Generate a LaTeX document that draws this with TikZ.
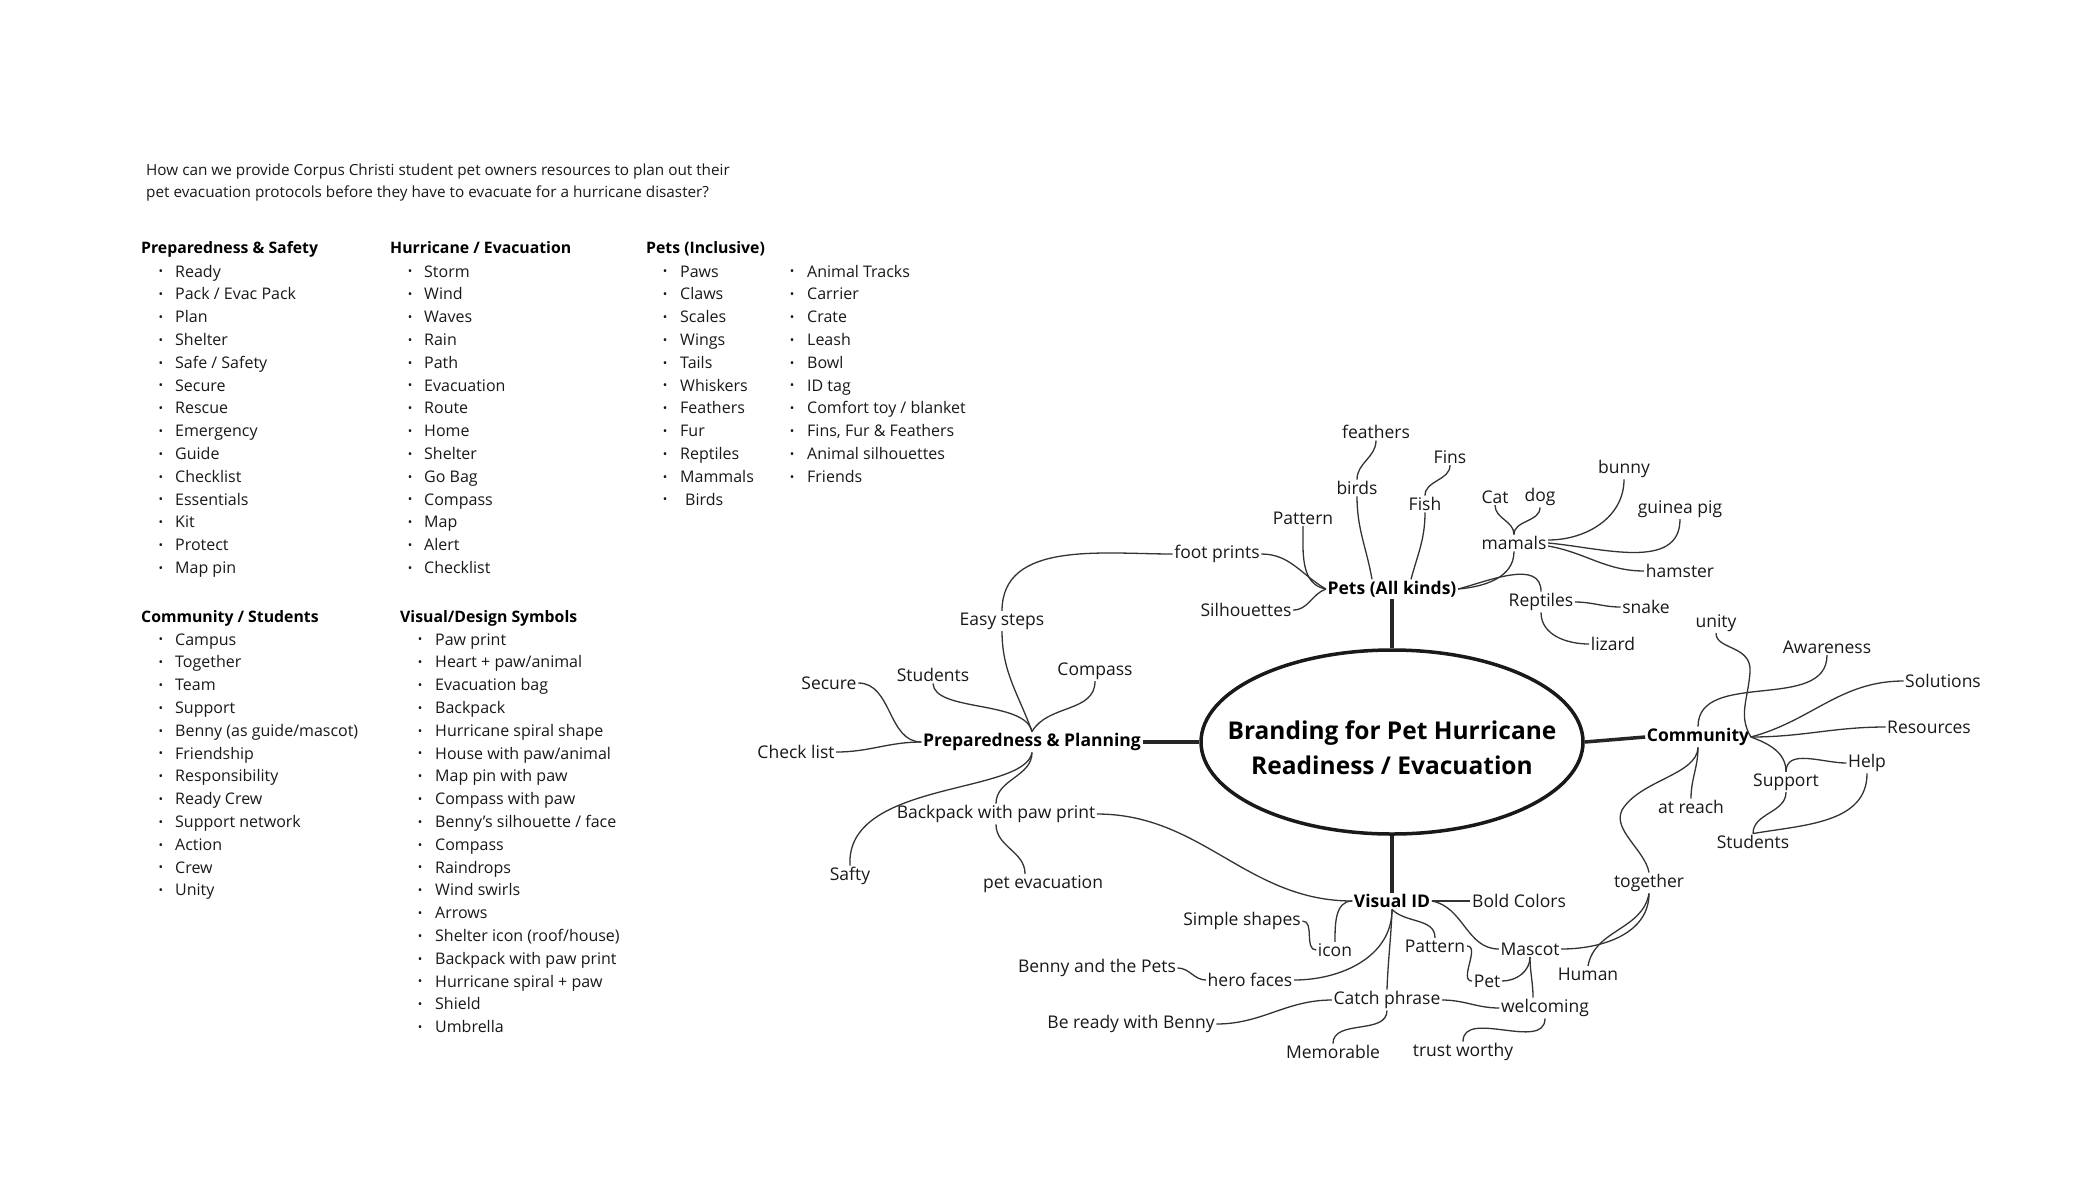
\documentclass[tikz,border=0pt]{standalone}
\usepackage{fontspec}
\setmainfont{Open Sans}
\usepackage{tikz}
\usetikzlibrary{shapes.geometric}

\newcommand{\listfont}{\fontsize{16}{22}\selectfont}
\newcommand{\mapfont}{\fontsize{17.5}{21}\selectfont}
\newcommand{\brandfont}{\fontsize{24.5}{35}\selectfont\bfseries}

\begin{document}
\begin{tikzpicture}[x=1pt, y=1pt,
        lbl/.style={inner sep=1.5pt, text=black!90, font=\mapfont},
        hub/.style={inner sep=1.5pt, text=black, font=\mapfont\bfseries},
        item/.style={anchor=west, inner sep=0pt, text height=11pt, text depth=3pt,
            text=black!90, font=\listfont},
        dot/.style={inner sep=0pt, text=black!90, font=\fontsize{12}{12}\selectfont},
        head/.style={anchor=west, inner sep=0pt, text height=11pt, text depth=3pt,
            text=black, font=\fontsize{15.8}{22}\selectfont\bfseries},
        link/.style={draw=black!80, line width=1.3pt},
        trunk/.style={draw=black!85, line width=3.5pt}]
    \fill[white] (0,0) rectangle (2100,-1200);
    \useasboundingbox (0,0) rectangle (2100,-1200);

    % question and word lists
    \node[anchor=west, inner sep=0pt, align=left, text=black!90,
        font=\fontsize{15.3}{22}\selectfont] (question) at (146,-183)
        {How can we provide Corpus Christi student pet owners resources to plan out their\\
         pet evacuation protocols before they have to evacuate for a hurricane disaster?};

    \node[head] (hsafe) at (141,-249) {Preparedness \& Safety};
    \foreach \t [count=\i from 0] in {Ready, Pack / Evac Pack, Plan, Shelter, Safe / Safety,
            Secure, Rescue, Emergency, Guide, Checklist, Essentials, Kit, Protect, Map pin} {
        \node[dot] (safed\i) at (161,-273-22.8*\i) {•};
        \node[item] (safe\i) at (175,-273-22.8*\i) {\t};
    }
    \node[head] (hhurr) at (390,-249) {Hurricane / Evacuation};
    \foreach \t [count=\i from 0] in {Storm, Wind, Waves, Rain, Path, Evacuation, Route,
            Home, Shelter, Go Bag, Compass, Map, Alert, Checklist} {
        \node[dot] (hurrd\i) at (410,-273-22.8*\i) {•};
        \node[item] (hurr\i) at (424,-273-22.8*\i) {\t};
    }
    \node[head] (hpets) at (646,-249) {Pets (Inclusive)};
    \foreach \t [count=\i from 0] in {Paws, Claws, Scales, Wings, Tails, Whiskers,
            Feathers, Fur, Reptiles, Mammals, {\hspace{5pt}Birds}} {
        \node[dot] (petsd\i) at (665,-273-22.8*\i) {•};
        \node[item] (pets\i) at (680,-273-22.8*\i) {\t};
    }
    \foreach \t [count=\i from 0] in {Animal Tracks, Carrier, Crate, Leash, Bowl, ID tag,
            Comfort toy / blanket, {Fins, Fur \& Feathers}, Animal silhouettes, Friends} {
        \node[dot] (geard\i) at (792,-273-22.8*\i) {•};
        \node[item] (gear\i) at (807,-273-22.8*\i) {\t};
    }
    \node[head] (hcomm) at (141,-618) {Community / Students};
    \foreach \t [count=\i from 0] in {Campus, Together, Team, Support, Benny (as guide/mascot),
            Friendship, Responsibility, Ready Crew, Support network, Action, Crew, Unity} {
        \node[dot] (commd\i) at (161,-641-22.8*\i) {•};
        \node[item] (comm\i) at (175,-641-22.8*\i) {\t};
    }
    \node[head] (hvis) at (400,-618) {Visual/Design Symbols};
    \foreach \t [count=\i from 0] in {Paw print, Heart + paw/animal, Evacuation bag, Backpack,
            Hurricane spiral shape, House with paw/animal, Map pin with paw, Compass with paw,
            Benny’s silhouette / face, Compass, Raindrops, Wind swirls, Arrows,
            Shelter icon (roof/house), Backpack with paw print, Hurricane spiral + paw,
            Shield, Umbrella} {
        \node[dot] (visd\i) at (420,-641-22.8*\i) {•};
        \node[item] (vis\i) at (435,-641-22.8*\i) {\t};
    }

    % centre of the map
    \node[ellipse, draw=black!90, line width=3.5pt, minimum width=382pt, minimum height=184pt,
        inner sep=0pt] (brand) at (1392,-742) {};
    \node[align=center, inner sep=0pt, font=\brandfont] (brandtxt) at (1392,-748)
        {Branding for Pet Hurricane\\Readiness / Evacuation};

    \node[hub] (pets) at (1392,-589) {Pets (All kinds)};
    \node[hub] (pp) at (1032,-742) {Preparedness \& Planning};
    \node[hub] (comm) at (1698,-737) {Community};
    \node[hub] (visual) at (1392,-901) {Visual ID};

    \path (brand.north) edge[trunk] (pets.south);
    \path (brand.west) edge[trunk] (pp.east);
    \path (brand.east) edge[trunk] (comm.west);
    \path (brand.south) edge[trunk] (visual.north);

    % pets
    \node[lbl] (feathers) at (1376,-432) {feathers};
    \node[lbl] (birds) at (1357,-488) {birds};
    \node[lbl] (fins) at (1450,-457) {Fins};
    \node[lbl] (fish) at (1425,-504) {Fish};
    \node[lbl] (pattern) at (1303,-518) {Pattern};
    \node[lbl] (foot) at (1217,-554) {foot prints};
    \node[lbl] (silh) at (1246,-610) {Silhouettes};
    \node[lbl] (cat) at (1495,-497) {Cat};
    \node[lbl] (dog) at (1540,-497) {dog};
    \node[lbl] (mamals) at (1514,-543) {mamals};
    \node[lbl] (bunny) at (1624,-469) {bunny};
    \node[lbl] (guinea) at (1680,-509) {guinea pig};
    \node[lbl] (hamster) at (1680,-571) {hamster};
    \node[lbl] (reptiles) at (1541,-602) {Reptiles};
    \node[lbl] (snake) at (1646,-607) {snake};
    \node[lbl] (lizard) at (1613,-644) {lizard};

    \path (foot.east) edge[link, out=0, in=150] (pets.west);
    \path (pattern.south) edge[link, out=-90, in=170] (pets.west);
    \path (silh.east) edge[link, out=0, in=200] (pets.west);
    \path (birds.south) edge[link, out=-90, in=100] ([xshift=-20pt]pets.north);
    \path (fish.south) edge[link, out=-90, in=75] ([xshift=19pt]pets.north);
    \path (birds.north) edge[link, out=90, in=-90] (feathers.south);
    \path (fish.north) edge[link, out=90, in=-90] (fins.south);
    \path (pets.east) edge[link, out=5, in=-90] (mamals.south);
    \path (pets.east) edge[link, out=15, in=90] (reptiles.north);
    \path (mamals.north) edge[link, out=90, in=-90] (cat.south);
    \path (mamals.north) edge[link, out=90, in=-90] (dog.south);
    \path ([yshift=3pt]mamals.east) edge[link, out=0, in=-90] (bunny.south);
    \path (mamals.east) edge[link, out=-5, in=-90] (guinea.south);
    \path ([yshift=-3pt]mamals.east) edge[link, out=-10, in=180] (hamster.west);
    \path (reptiles.east) edge[link, out=0, in=180] (snake.west);
    \path (reptiles.south) edge[link, out=-90, in=180] (lizard.west);

    % preparedness
    \node[lbl] (easy) at (1002,-621) {Easy steps};
    \node[lbl] (students) at (933,-675) {Students};
    \node[lbl] (compass) at (1095,-671) {Compass};
    \node[lbl] (secure) at (829,-683) {Secure};
    \node[lbl] (check) at (796,-752) {Check list};
    \node[lbl] (backpack) at (996,-814) {Backpack with paw print};
    \node[lbl] (safty) at (850,-876) {Safty};
    \node[lbl] (petevac) at (1043,-884) {pet evacuation};

    \path (easy.south) edge[link, out=-90, in=110] (pp.north);
    \draw[link] (students.south) .. controls (934,-712) and (1025,-700) .. (pp.north);
    \path (compass.south) edge[link, out=-90, in=60] (pp.north);
    \path (easy.north) edge[link, out=90, in=180] (foot.west);
    \path (secure.east) edge[link, out=0, in=180] (pp.west);
    \path (check.east) edge[link, out=0, in=180] (pp.west);
    \draw[link] (pp.south) .. controls (1025,-795) and (845,-780) .. (safty.north);
    \path (pp.south) edge[link, out=-90, in=90] (backpack.north);
    \path (backpack.south) edge[link, out=-90, in=90] ([xshift=-18pt]petevac.north);
    \path (backpack.east) edge[link, out=0, in=180] (visual.west);

    % community
    \node[lbl] (unity) at (1716,-623) {unity};
    \node[lbl] (aware) at (1827,-647) {Awareness};
    \node[lbl] (solutions) at (1943,-681) {Solutions};
    \node[lbl] (resources) at (1929,-727) {Resources};
    \node[lbl] (help) at (1867,-763) {Help};
    \node[lbl] (support) at (1786,-782) {Support};
    \node[lbl] (atreach) at (1691,-807) {at reach};
    \node[lbl] (stud) at (1753,-842) {Students};
    \node[lbl] (together) at (1649,-883) {together};
    \node[lbl] (human) at (1588,-974) {Human};

    \path (comm.north) edge[link, out=90, in=-90] (aware.south);
    \draw[link] (unity.south) .. controls (1716,-650) and (1752,-645) .. (1750,-672)
        .. controls (1748,-700) and (1738,-715) .. (comm.east);
    \path (comm.east) edge[link, out=15, in=180] (solutions.west);
    \path (comm.east) edge[link, out=0, in=180] (resources.west);
    \path (comm.east) edge[link, out=-20, in=90] (support.north);
    \path (support.north) edge[link, out=90, in=180] (help.west);
    \path (support.south) edge[link, out=-90, in=90] (stud.north);
    \path (stud.north) edge[link, out=10, in=-90] (help.south);
    \path (comm.south) edge[link, out=-90, in=90] (atreach.north);
    \draw[link] (comm.south) .. controls (1697,-775) and (1640,-780) .. (1622,-810)
        .. controls (1612,-830) and (1645,-850) .. (together.north);

    % visual id
    \node[lbl] (bold) at (1519,-901) {Bold Colors};
    \node[lbl] (vpattern) at (1435,-946) {Pattern};
    \node[lbl] (mascot) at (1530,-949) {Mascot};
    \node[lbl] (pet) at (1487,-981) {Pet};
    \node[lbl] (welcoming) at (1545,-1008) {welcoming};
    \node[lbl] (trust) at (1463,-1052) {trust worthy};
    \node[lbl] (catch) at (1387,-1000) {Catch phrase};
    \node[lbl] (memorable) at (1333,-1052) {Memorable};
    \node[lbl] (ready) at (1131,-1024) {Be ready with Benny};
    \node[lbl] (benny) at (1097,-968) {Benny and the Pets};
    \node[lbl] (hero) at (1250,-980) {hero faces};
    \node[lbl] (simple) at (1242,-921) {Simple shapes};
    \node[lbl] (icon) at (1335,-950) {icon};

    \path (visual.east) edge[link] (bold.west);
    \path (visual.east) edge[link, out=-10, in=180] (mascot.west);
    \path (visual.south) edge[link, out=-45, in=90] (vpattern.north);
    \path (visual.south) edge[link, out=-92, in=88] (catch.north);
    \path (visual.south) edge[link, out=-90, in=0] (hero.east);
    \path (visual.west) edge[link, out=180, in=90] (icon.north);
    \path (simple.east) edge[link, out=0, in=180] (icon.west);
    \path (benny.east) edge[link, out=0, in=180] (hero.west);
    \path (catch.west) edge[link, out=180, in=0] (ready.east);
    \path (catch.south) edge[link, out=-90, in=90] (memorable.north);
    \path (catch.east) edge[link, out=0, in=180] (welcoming.west);
    \path (vpattern.east) edge[link, out=0, in=180] (pet.west);
    \path (mascot.south) edge[link, out=-90, in=0] (pet.east);
    \path (mascot.south) edge[link, out=-90, in=90] ([xshift=-12pt]welcoming.north);
    \path (welcoming.south) edge[link, out=-90, in=90] (trust.north);
    \path (together.south) edge[link, out=-90, in=0] (mascot.east);
    \path (together.south) edge[link, out=-100, in=80] (human.north);
\end{tikzpicture}
\end{document}
